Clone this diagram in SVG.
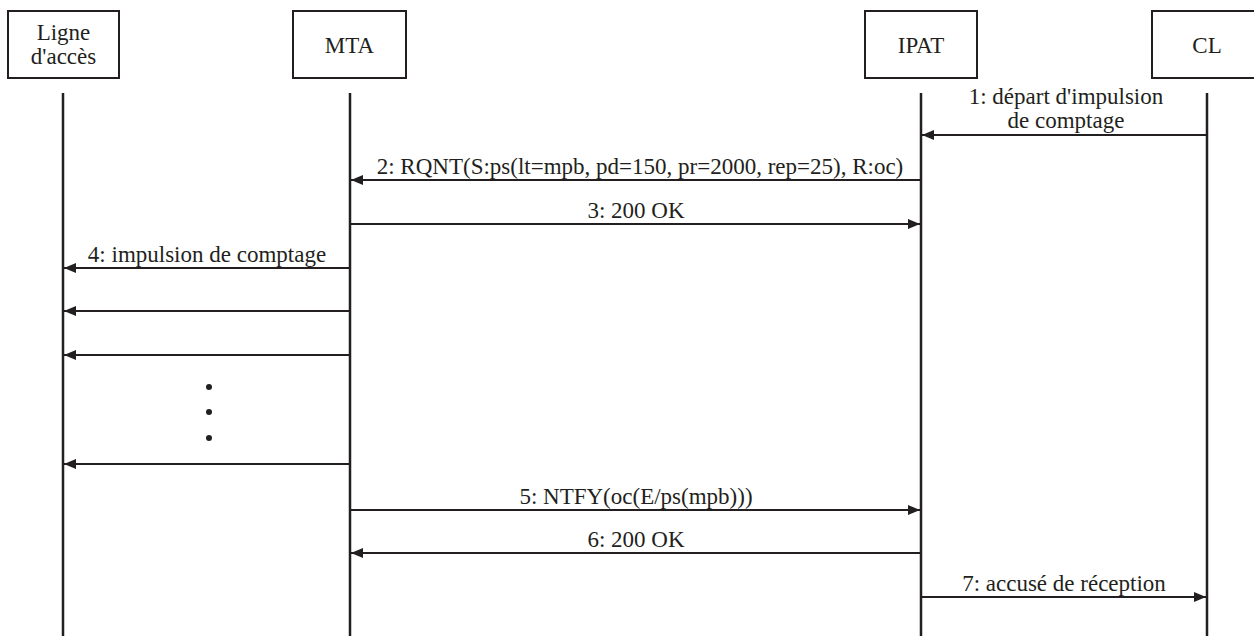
<svg xmlns="http://www.w3.org/2000/svg" width="1254" height="636" viewBox="0 0 1254 636">
<defs>
<style>
.box{fill:#fff;stroke:#231f20;stroke-width:2}
.life{stroke:#231f20;stroke-width:2.5}
.msg{stroke:#231f20;stroke-width:2;fill:none}
text{font-family:"Liberation Serif","Times New Roman",serif;font-size:23px;fill:#231f20;text-anchor:middle}
</style>
<marker id="ah" viewBox="0 0 12 10" refX="12" refY="5" markerWidth="12" markerHeight="10" markerUnits="userSpaceOnUse" orient="auto">
<path d="M0,0 L12,5 L0,10 Z" fill="#231f20"/>
</marker>
</defs>
<rect width="1254" height="636" fill="#fff"/>
<g id="node-ligne">
<rect class="box" x="8" y="11" width="111" height="67"/>
<text x="63.5" y="40">Ligne</text>
<text x="63.5" y="64">d'accès</text>
<line class="life" x1="63" y1="93" x2="63" y2="636"/>
</g>
<g id="node-mta">
<rect class="box" x="293" y="11" width="113" height="67"/>
<text x="349.5" y="53">MTA</text>
<line class="life" x1="350" y1="93" x2="350" y2="636"/>
</g>
<g id="node-ipat">
<rect class="box" x="865" y="11" width="112" height="67"/>
<text x="921" y="53">IPAT</text>
<line class="life" x1="921" y1="93" x2="921" y2="636"/>
</g>
<g id="node-cl">
<rect class="box" x="1152" y="11" width="111" height="67"/>
<text x="1207" y="53">CL</text>
<line class="life" x1="1207" y1="93" x2="1207" y2="636"/>
</g>
<g id="connectors">
<line class="msg" x1="1207" y1="135" x2="922" y2="135" marker-end="url(#ah)"/>
<line class="msg" x1="921" y1="180" x2="351" y2="180" marker-end="url(#ah)"/>
<line class="msg" x1="350" y1="224" x2="920" y2="224" marker-end="url(#ah)"/>
<line class="msg" x1="350" y1="268" x2="64" y2="268" marker-end="url(#ah)"/>
<line class="msg" x1="350" y1="311" x2="64" y2="311" marker-end="url(#ah)"/>
<line class="msg" x1="350" y1="355" x2="64" y2="355" marker-end="url(#ah)"/>
<line class="msg" x1="350" y1="464" x2="64" y2="464" marker-end="url(#ah)"/>
<line class="msg" x1="350" y1="510" x2="920" y2="510" marker-end="url(#ah)"/>
<line class="msg" x1="921" y1="553" x2="351" y2="553" marker-end="url(#ah)"/>
<line class="msg" x1="921" y1="597" x2="1206" y2="597" marker-end="url(#ah)"/>
<circle cx="209" cy="387" r="3" fill="#231f20"/>
<circle cx="209" cy="412" r="3" fill="#231f20"/>
<circle cx="209" cy="438" r="3" fill="#231f20"/>
</g>
<g id="labels">
<text x="1066" y="104">1: départ d'impulsion</text>
<text x="1066" y="128">de comptage</text>
<text x="640" y="174">2: RQNT(S:ps(lt=mpb, pd=150, pr=2000, rep=25), R:oc)</text>
<text x="636" y="218">3: 200 OK</text>
<text x="207" y="262">4: impulsion de comptage</text>
<text x="636" y="504">5: NTFY(oc(E/ps(mpb)))</text>
<text x="636" y="547">6: 200 OK</text>
<text x="1064" y="591">7: accusé de réception</text>
</g>
</svg>
